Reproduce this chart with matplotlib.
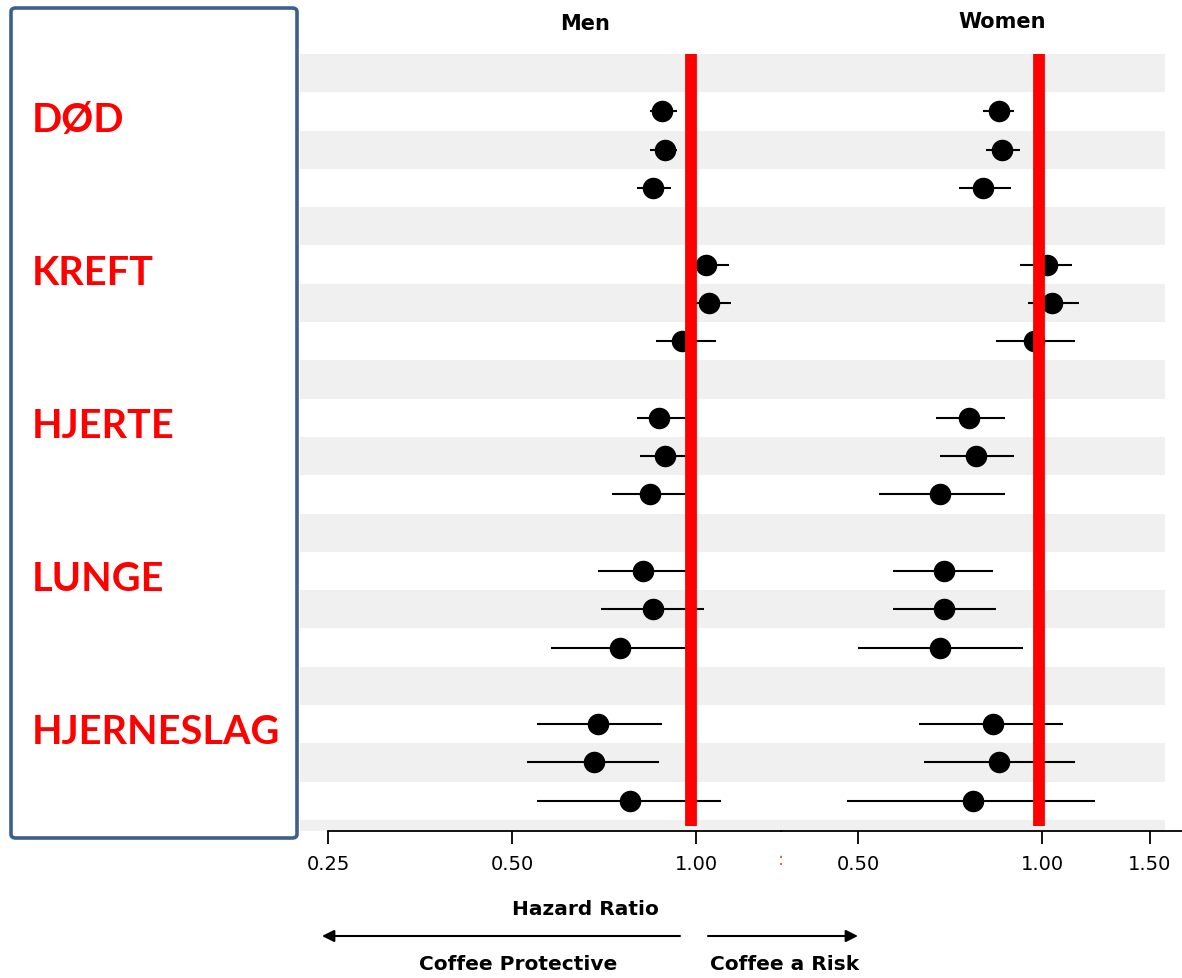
import matplotlib
matplotlib.use("Agg")
import matplotlib.pyplot as plt
from matplotlib.patches import FancyBboxPatch
from matplotlib.ticker import NullLocator, FixedLocator, FixedFormatter
import matplotlib.transforms as mtransforms

# data: hazard ratio, lower and upper CI (3 rows per group)
groups = ['DØD', 'KREFT', 'HJERTE', 'LUNGE', 'HJERNESLAG']

men_hr = [0.88, 0.89, 0.85, 1.04, 1.05, 0.95, 0.87, 0.89, 0.84,
          0.82, 0.85, 0.75, 0.69, 0.68, 0.78]
men_lo = [0.84, 0.84, 0.80, 0.97, 0.97, 0.86, 0.80, 0.81, 0.73,
          0.69, 0.70, 0.58, 0.55, 0.53, 0.55]
men_hi = [0.93, 0.93, 0.91, 1.13, 1.14, 1.08, 0.98, 0.98, 0.98,
          0.98, 1.03, 0.98, 0.88, 0.87, 1.10]

women_hr = [0.85, 0.86, 0.80, 1.02, 1.04, 0.97, 0.76, 0.78, 0.68,
            0.69, 0.69, 0.68, 0.83, 0.85, 0.77]
women_lo = [0.80, 0.81, 0.73, 0.92, 0.95, 0.84, 0.67, 0.68, 0.54,
            0.57, 0.57, 0.50, 0.63, 0.64, 0.48]
women_hi = [0.90, 0.92, 0.89, 1.12, 1.15, 1.13, 0.87, 0.90, 0.87,
            0.83, 0.84, 0.93, 1.08, 1.13, 1.22]

men_ticks = [0.25, 0.50, 1.00]
women_ticks = [0.50, 1.00, 1.50]
men_ref = 0.98
women_ref = 0.99

W, H = 1182, 979
fig = plt.figure(figsize=(W / 100, H / 100), dpi=100)

def box(x0, y0, x1, y1):
    return [x0 / W, 1 - y1 / H, (x1 - x0) / W, (y1 - y0) / H]

n_rows = 4 * len(groups)
ylim = (20.29, 0)
# y position of every data row (a header row precedes each group)
rows = [4 * g + 1 + k + 0.5 for g in range(len(groups)) for k in range(3)]

narrow = ['Liberation Sans Narrow', 'DejaVu Sans']

# striped background
bg = fig.add_axes(box(300, 55, 1165, 832))
bg.set_ylim(*ylim)
bg.set_xlim(0, 1)
for i in range(0, n_rows + 1, 2):
    bg.axhspan(i, i + 1, color='#f0f0f0', lw=0)
bg.axis('off')

def panel(rect, xlim, ticks, hr, lo, hi, ref, bound_lo):
    ax = fig.add_axes(rect)
    ax.patch.set_alpha(0)
    ax.set_xscale('log', base=2)
    ax.set_xlim(*xlim)
    ax.set_ylim(*ylim)
    ax.hlines(rows, lo, hi, color='black', lw=1.5, zorder=2)
    ax.plot(hr, rows, 'o', ms=14.5, color='black', zorder=3)
    ax.plot([ref, ref], [0, 20.15], color='red', lw=8.5, zorder=4,
            solid_capstyle='butt')
    for s in ['top', 'left', 'right']:
        ax.spines[s].set_visible(False)
    ax.spines['bottom'].set_linewidth(1.3)
    ax.spines['bottom'].set_bounds(bound_lo, xlim[1])
    ax.yaxis.set_major_locator(NullLocator())
    ax.xaxis.set_major_locator(FixedLocator(ticks))
    ax.xaxis.set_major_formatter(FixedFormatter(['%.2f' % t for t in ticks]))
    ax.xaxis.set_minor_locator(NullLocator())
    ax.tick_params(axis='x', direction='out', length=9.5, width=1.3, pad=7,
                   labelsize=14)
    for lab in ax.get_xticklabels():
        lab.set_family(narrow)
    return ax

ax_m = panel(box(300, 55, 781, 832), (0.225, 1.377), men_ticks,
             men_hr, men_lo, men_hi, men_ref, 0.25)
ax_w = panel(box(781, 55, 1182, 832), (0.374, 1.694), women_ticks,
             women_hr, women_lo, women_hi, women_ref, 0.374)

fig.text(585 / W, 1 - 24 / H, 'Men', ha='center', va='center',
         fontsize=15, fontweight='bold', family=narrow)
fig.text(1002 / W, 1 - 22 / H, 'Women', ha='center', va='center',
         fontsize=15, fontweight='bold', family=narrow)
fig.text(781 / W, 1 - 860 / H, ':', ha='center', va='center',
         fontsize=13, color='#e0603a', family=narrow)

# axis caption and direction arrows
fig.text(585 / W, 1 - 910 / H, 'Hazard Ratio', ha='center', va='center',
         fontsize=14.5, fontweight='bold', family=narrow)
fig.text(518 / W, 1 - 965 / H, 'Coffee Protective', ha='center', va='center',
         fontsize=14.5, fontweight='bold', family=narrow)
fig.text(785 / W, 1 - 965 / H, 'Coffee a Risk', ha='center', va='center',
         fontsize=14.5, fontweight='bold', family=narrow)
arrow = dict(arrowstyle='-|>', color='black', lw=1.5, mutation_scale=18,
             shrinkA=0, shrinkB=0)
fig.add_artist(matplotlib.patches.FancyArrowPatch(
    (680 / W, 1 - 937 / H), (322 / W, 1 - 937 / H),
    transform=fig.transFigure, **arrow))
fig.add_artist(matplotlib.patches.FancyArrowPatch(
    (708 / W, 1 - 937 / H), (858 / W, 1 - 937 / H),
    transform=fig.transFigure, **arrow))

# left box with group labels
frame = FancyBboxPatch((11 / W, 1 - 839 / H), 286 / W, 830 / H,
                       boxstyle='round,pad=0,rounding_size=0.004',
                       transform=fig.transFigure, fill=False,
                       edgecolor='#3d5f8e', lw=2.6)
fig.add_artist(frame)
trans = mtransforms.blended_transform_factory(fig.transFigure, bg.transData)
for g, name in enumerate(groups):
    fig.text(32 / W, 4 * g + 1.7, name, transform=trans, ha='left', va='center',
             fontsize=28.5, fontweight='bold', color='#ff0000',
             family=['Lato', 'DejaVu Sans'])

fig.savefig('out.png', dpi=100)
